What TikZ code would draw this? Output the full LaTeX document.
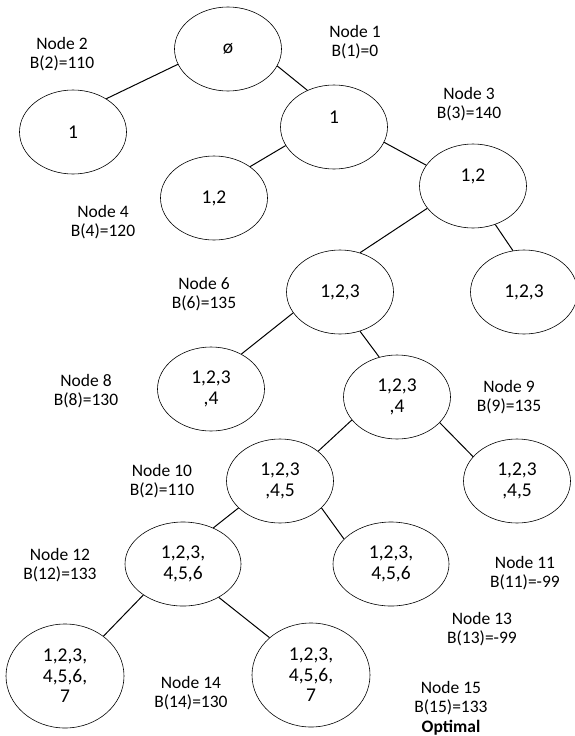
\documentclass[tikz,border=0pt]{standalone}
\usepackage{fontspec}
\setmainfont{Carlito}
\usetikzlibrary{shapes.geometric}
\tikzset{
  settext/.style={font=\fontsize{19.5}{20.5}\selectfont},
  bubble/.style={draw,line width=0.6pt,ellipse,settext,align=center,inner sep=0pt,minimum width=107pt,minimum height=84pt},
  widebubble/.style={bubble,minimum width=116pt},
  bigbubble/.style={bubble,minimum width=118pt,minimum height=104pt},
  info/.style={align=center,font=\fontsize{17.5}{19.5}\selectfont}
}
\begin{document}
\begin{tikzpicture}[x=1pt,y=-1pt]
  \useasboundingbox (0,0) rectangle (574,736);
  % tree nodes
  \node[bubble] (n1) at (228,49) {ø};
  \node[bubble] (n2) at (73,132) {1};
  \node[bubble,label={[settext,yshift=10pt]center:1}] (n3) at (334,127) {};
  \node[bubble] (n4) at (214,198) {1,2};
  \node[bubble,label={[settext,yshift=10pt]center:1,2}] (n5) at (473,186) {};
  \node[bubble] (n6) at (340,292) {1,2,3};
  \node[bubble] (n7) at (524,292) {1,2,3};
  \node[bubble] (n8) at (211,389) {1,2,3\\,4};
  \node[bubble] (n9) at (397,397) {1,2,3\\,4};
  \node[bubble] (n10) at (280,481) {1,2,3\\,4,5};
  \node[bubble] (n11) at (517,481) {1,2,3\\,4,5};
  \node[widebubble] (n12) at (183,564) {1,2,3,\\4,5,6};
  \node[widebubble] (n13) at (391,564) {1,2,3,\\4,5,6};
  \node[bigbubble] (n14) at (65,676) {1,2,3,\\4,5,6,\\7};
  \node[bigbubble] (n15) at (311,675) {1,2,3,\\4,5,6,\\7};

  % bounds
  \node[info] (b1) at (355,42) {Node 1\\B(1)=0};
  \node[info] (b2) at (62,54) {Node 2\\B(2)=110};
  \node[info] (b3) at (469,104) {Node 3\\B(3)=140};
  \node[info] (b4) at (103,222) {Node 4\\B(4)=120};
  \node[info] (b6) at (204,294) {Node 6\\B(6)=135};
  \node[info] (b8) at (86,391) {Node 8\\B(8)=130};
  \node[info] (b9) at (509,397) {Node 9\\B(9)=135};
  \node[info] (b10) at (162,481) {Node 10\\B(2)=110};
  \node[info] (b11) at (525,573) {Node 11\\B(11)=-99};
  \node[info] (b12) at (60,565) {Node 12\\B(12)=133};
  \node[info] (b13) at (482,629) {Node 13\\B(13)=-99};
  \node[info] (b14) at (191,693) {Node 14\\B(14)=130};
  \node[info] (b15) at (451,708) {Node 15\\B(15)=133\\\textbf{Optimal}};

  % branches
  \draw[line width=1pt] (n1.197) -- (n2.45);
  \draw[line width=1pt] (n1.341) -- (n3.126);
  \draw[line width=1pt] (n3.201) -- (n4.41);
  \draw[line width=1pt] (n3.343) -- (n5.156);
  \draw[line width=1pt] (n5.206) -- (n6.63);
  \draw[line width=1pt] (n5.300) -- (n7.105);
  \draw[line width=1pt] (n6.204) -- (n8.49);
  \draw[line width=1pt] (n6.297) -- (n9.114);
  \draw[line width=1pt] (n9.207) -- (n10.38);
  \draw[line width=1pt] (n9.329) -- (n11.151);
  \draw[line width=1pt] (n10.213) -- (n12.50);
  \draw[line width=1pt] (n10.327) -- (n13.152);
  \draw[line width=1pt] (n12.218) -- (n14.46);
  \draw[line width=1pt] (n12.317) -- (n15.138);
\end{tikzpicture}
\end{document}
